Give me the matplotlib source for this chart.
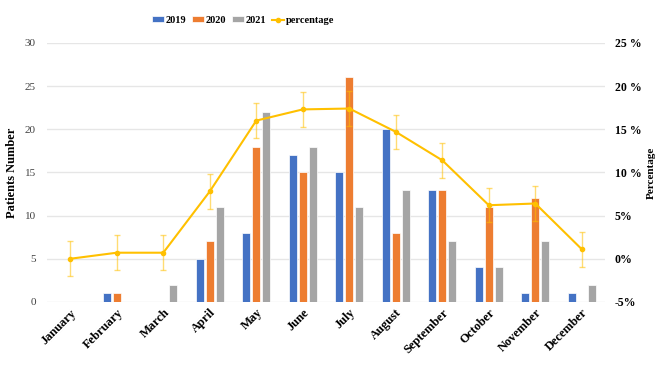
import matplotlib
matplotlib.use("Agg")
import matplotlib.pyplot as plt
import numpy as np

months = ["January", "February", "March", "April", "May", "June", "July",
          "August", "September", "October", "November", "December"]
y2019 = [0, 1, 0, 5, 8, 17, 15, 20, 13, 4, 1, 1]
y2020 = [0, 1, 0, 7, 18, 15, 26, 8, 13, 11, 12, 0]
y2021 = [0, 0, 2, 11, 22, 18, 11, 13, 7, 4, 7, 2]
percentage = [0.0, 0.7, 0.7, 7.8, 16.0, 17.3, 17.4, 14.7, 11.4, 6.2, 6.4, 1.1]
perc_err = [2, 2, 2, 2, 2, 2, 2, 2, 2, 2, 2, 2]

plt.rcParams['font.family'] = ['Liberation Serif', 'DejaVu Serif']

fig = plt.figure(figsize=(6.62, 3.70), dpi=100)
ax = fig.add_axes([0.071, 0.184, 0.843, 0.700])
x = np.arange(len(months))
w = 0.175
off = 0.215
c_blue, c_orange, c_gray, c_yel = "#4472C4", "#ED7D31", "#A5A5A5", "#FFC000"
b1 = ax.bar(x - off, y2019, w, color=c_blue, edgecolor="white", linewidth=0.5, label="2019", zorder=2)
b2 = ax.bar(x, y2020, w, color=c_orange, edgecolor="white", linewidth=0.5, label="2020", zorder=2)
b3 = ax.bar(x + off, y2021, w, color=c_gray, edgecolor="white", linewidth=0.5, label="2021", zorder=2)
ax.set_xlim(-0.5, 11.5)
ax.set_ylim(0, 30)
ax.set_yticks(range(0, 31, 5))
ax.grid(axis="y", color="#E6E6E6", linewidth=1, zorder=0)
ax.set_axisbelow(True)
for s in ax.spines.values():
    s.set_visible(False)
ax.tick_params(axis="both", length=0)
ax.tick_params(axis="y", labelsize=8, labelcolor="#404040", pad=8)
ax.set_xticks(x)
ax.set_xticklabels(months, rotation=45, ha="right", rotation_mode="anchor",
                   fontsize=9, fontweight="bold")
ax.set_ylabel("Patients Number", fontsize=9, fontweight="bold")
ax.yaxis.set_label_coords(-0.052, 0.5)

ax2 = ax.twinx()
ax2.set_ylim(-5, 25)
ax2.set_yticks(range(-5, 26, 5))
ax2.set_yticklabels([f"{v}%" if abs(v) < 10 else f"{v} %" for v in range(-5, 26, 5)])
for s in ax2.spines.values():
    s.set_visible(False)
ax2.tick_params(axis="y", length=0, labelsize=8.5, pad=7)
for lab in ax2.get_yticklabels():
    lab.set_fontweight("bold")
ax2.errorbar(x, percentage, yerr=perc_err, fmt="none", ecolor=c_yel, alpha=0.55,
             elinewidth=1, capsize=2, capthick=1, zorder=3)
ln, = ax2.plot(x, percentage, color=c_yel, linewidth=1.5, marker="o", markersize=3,
               label="percentage", zorder=4)
ax2.set_ylabel("Percentage", fontsize=8, fontweight="bold", rotation=90)
ax2.yaxis.set_label_coords(1.075, 0.5)

leg = fig.legend(handles=[b1, b2, b3, ln], labels=["2019", "2020", "2021", "percentage"],
                 loc="center", bbox_to_anchor=(0.367, 0.945), ncol=4, frameon=False,
                 prop={"weight": "bold", "size": 7.5}, handlelength=1.2, handleheight=0.5,
                 handletextpad=0.15, columnspacing=0.5)

fig.savefig("out.png", dpi=100)
